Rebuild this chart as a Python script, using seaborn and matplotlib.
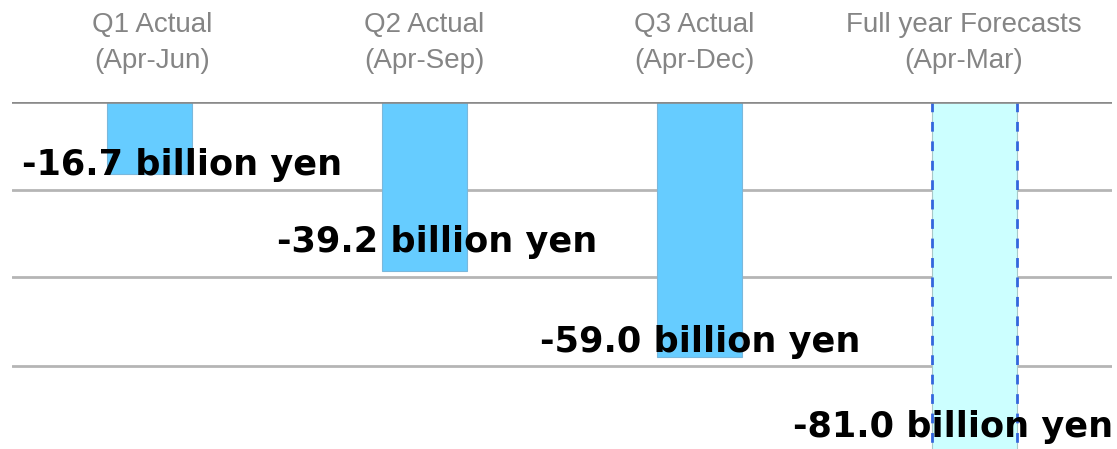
import matplotlib
matplotlib.use("Agg")
import matplotlib.pyplot as plt
import seaborn as sns
import pandas as pd

# ---- data ----
categories = ["Q1 Actual", "Q2 Actual", "Q3 Actual", "Full year Forecasts"]
periods = ["(Apr-Jun)", "(Apr-Sep)", "(Apr-Dec)", "(Apr-Mar)"]
values = [-16.7, -39.2, -59.0, -81.0]
value_labels = ["-16.7 billion yen", "-39.2 billion yen", "-59.0 billion yen", "-81.0 billion yen"]
grid_levels = [-20.4, -40.5, -61.1]

# ---- style ----
sns.set_theme(style="white")
plt.rcParams["font.family"] = ["DejaVu Sans"]

bar_colors = ["#66ccff", "#66ccff", "#66ccff", "#ccffff"]
label_dx = [0.118, 0.045, 0.002, -0.078]
label_y = [-16.9, -34.7, -57.8, -77.6]
header_dx = [0.01, 0.0, -0.02, -0.04]

fig = plt.figure(figsize=(11.17, 4.49), dpi=100)
ax = fig.add_axes([12 / 1117, 0.0, 1100 / 1117, 347 / 449])

df = pd.DataFrame({"category": categories, "value": values})
sns.barplot(data=df, x="category", y="value", hue="category",
            palette=bar_colors, legend=False, width=0.31,
            saturation=1.0, ax=ax, zorder=2)

for i, p in enumerate(ax.patches):
    if i < 3:
        p.set_edgecolor("#7ab8dc")
        p.set_linewidth(0.8)
    else:
        p.set_edgecolor("#a8c8c8")
        p.set_linewidth(0.8)
        x0 = p.get_x()
        x1 = p.get_x() + p.get_width()
        ax.vlines([x0, x1], 0, values[i], colors="#3366dd", linestyles=(0, (3.5, 3.5)),
                  linewidth=2.0, zorder=3)

ax.set_xlim(-0.5, 3.5)
ax.set_ylim(-80.3, 0)

for g in grid_levels:
    ax.axhline(g, color="#b5b5b5", lw=2.0, zorder=1)
ax.axhline(0, color="#8a8a8a", lw=2.6, zorder=4)

for s in ax.spines.values():
    s.set_visible(False)
ax.set_xticks([])
ax.set_yticks([])
ax.set_xlabel("")
ax.set_ylabel("")

# headers above the top line
for i, (c, per) in enumerate(zip(categories, periods)):
    ax.text(i + header_dx[i], 1.0 + 77 / 347, c, transform=ax.get_xaxis_transform(),
            ha="center", va="center", fontsize=20, color="#858585",
            family="Liberation Sans")
    ax.text(i + header_dx[i], 1.0 + 41 / 347, per, transform=ax.get_xaxis_transform(),
            ha="center", va="center", fontsize=20, color="#858585",
            family="Liberation Sans")

# value labels
for i, lab in enumerate(value_labels):
    ax.text(i + label_dx[i], label_y[i], lab, ha="center", va="baseline",
            fontsize=25.3, fontweight="bold", color="black", zorder=5,
            clip_on=False)

fig.savefig("out.png", dpi=100, facecolor="white")
